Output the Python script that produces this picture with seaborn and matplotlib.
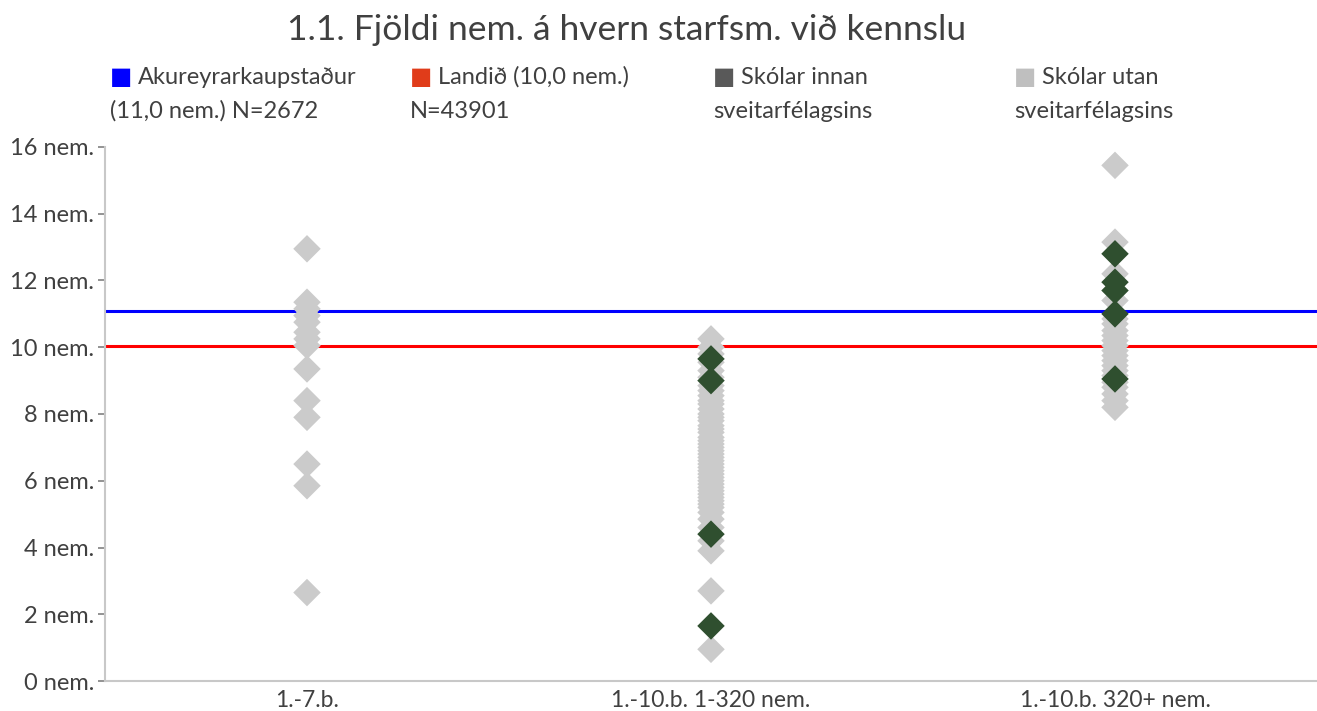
import matplotlib
matplotlib.use("Agg")
import matplotlib.pyplot as plt
import seaborn as sns
import pandas as pd

categories = ["1.-7.b.", "1.-10.b. 1-320 nem.", "1.-10.b. 320+ nem."]

utan_cat1 = [12.95, 11.35, 11.15, 10.95, 10.75, 10.45, 10.25, 10.05, 9.35, 8.4, 7.9, 6.5, 5.85, 2.65]
utan_cat2 = [10.25, 10.0, 9.8, 9.55, 9.3, 9.1, 8.85, 8.7, 8.55, 8.4, 8.3, 8.15, 8.0, 7.9,
             7.8, 7.65, 7.55, 7.45, 7.3, 7.2, 7.1, 7.0, 6.9, 6.8, 6.7, 6.6, 6.5, 6.4, 6.3,
             6.2, 6.1, 6.0, 5.9, 5.8, 5.7, 5.6, 5.5, 5.4, 5.3, 5.2, 5.05, 4.85, 4.6, 4.2,
             3.9, 2.7, 0.95]
utan_cat3 = [15.45, 13.15, 12.2, 11.4, 10.85, 10.7, 10.5, 10.35, 10.2, 10.05, 9.9, 9.75,
             9.6, 9.45, 9.3, 9.15, 8.95, 8.8, 8.6, 8.4, 8.2]
innan_cat1 = []
innan_cat2 = [9.65, 9.0, 4.4, 1.65]
innan_cat3 = [12.8, 11.95, 11.7, 11.0, 9.05]

akureyri_value = 11.1
landid_value = 10.05

series_labels = ["Skólar utan sveitarfélagsins", "Skólar innan sveitarfélagsins"]
legend_labels = ["Akureyrarkaupstaður\n(11,0 nem.) N=2672", "Landið (10,0 nem.)\nN=43901",
                 "Skólar innan\nsveitarfélagsins", "Skólar utan\nsveitarfélagsins"]
yticks = [0, 2, 4, 6, 8, 10, 12, 14, 16]
ytick_labels = [f"{v} nem." for v in yticks]

rows = []
for cat, vals in zip(categories, [utan_cat1, utan_cat2, utan_cat3]):
    rows += [(cat, v, series_labels[0]) for v in vals]
for cat, vals in zip(categories, [innan_cat1, innan_cat2, innan_cat3]):
    rows += [(cat, v, series_labels[1]) for v in vals]
df = pd.DataFrame(rows, columns=["flokkur", "gildi", "hópur"])

sns.set_theme(style="white")
plt.rcParams["font.family"] = ["Lato", "DejaVu Sans"]

fig = plt.figure(figsize=(13.17, 7.11), dpi=100)
ax = fig.add_axes([105 / 1317, 1 - 681 / 711, 1 - 105 / 1317, (681 - 147) / 711])

ax.axhline(akureyri_value, color="#0000ff", lw=2.2, zorder=1)
ax.axhline(landid_value, color="#ff0000", lw=2.2, zorder=1)

sns.stripplot(data=df, x="flokkur", y="gildi", hue="hópur", order=categories,
              hue_order=series_labels, palette=["#cbcbcb", "#2f4f2f"], jitter=False,
              dodge=False, marker="D", s=14, linewidth=0, ax=ax, zorder=3, legend=False)

ax.set_xlim(-0.5, 2.5)
ax.set_ylim(0, 16)
ax.set_yticks(yticks)
ax.set_yticklabels(ytick_labels)
ax.set_xlabel("")
ax.set_ylabel("")
for s in ["top", "right"]:
    ax.spines[s].set_visible(False)
for s in ["left", "bottom"]:
    ax.spines[s].set_color("#c8c8c8")
    ax.spines[s].set_linewidth(1.5)
ax.tick_params(axis="y", which="both", left=True, length=5, width=1.2, color="#808080",
               labelsize=17, labelcolor="#404040", pad=3)
ax.tick_params(axis="x", bottom=False, labelsize=16.5, labelcolor="#404040", pad=0.5)

fig.text(627 / 1317, 1 - 30 / 711, "1.1. Fjöldi nem. á hvern starfsm. við kennslu",
         ha="center", va="center", fontsize=25.5, color="#404040")

legend_colors = ["#0000ff", "#e03c1a", "#595959", "#bfbfbf"]
legend_x = [110, 410, 713, 1014]
for x, lab, col in zip(legend_x, legend_labels, legend_colors):
    first, second = lab.split("\n")
    fig.text(x / 1317, 1 - 77 / 711, "\u25A0", color=col, fontsize=17, va="center",
             ha="left", family=["DejaVu Sans"])
    fig.text((x + 28) / 1317, 1 - 77 / 711, first, color="#404040", fontsize=17,
             va="center", ha="left")
    fig.text(x / 1317, 1 - 111 / 711, second, color="#404040", fontsize=17,
             va="center", ha="left")

fig.savefig("out.png", dpi=100)
